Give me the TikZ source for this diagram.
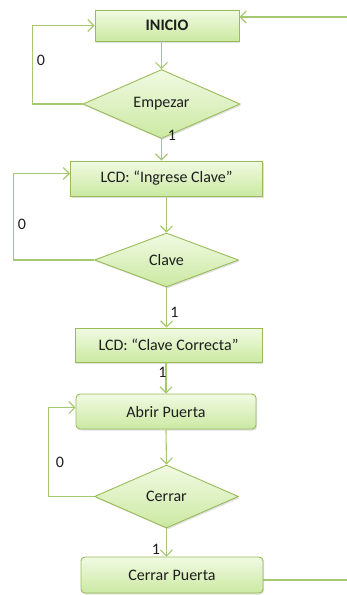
\documentclass[tikz,border=0pt]{standalone}
\usepackage{fontspec}
\setmainfont{Carlito}
\usepackage{tikz}
\usetikzlibrary{arrows.meta, positioning, shapes.geometric, shadows}
\definecolor{boxtop}{HTML}{F1FAE3}
\definecolor{boxbot}{HTML}{CBE9A2}
\definecolor{boxline}{HTML}{9BBB59}
\definecolor{flowline}{HTML}{A6C872}
\definecolor{txt}{HTML}{1E1E1E}

\begin{document}
\begin{tikzpicture}[x=1pt, y=-1pt, thick,
    font=\fontsize{16}{18}\selectfont, text=txt,
    base/.style={draw=boxline, line width=0.9pt, top color=boxtop, bottom color=boxbot,
                 drop shadow={shadow xshift=1.2pt, shadow yshift=-1.5pt, opacity=0.25}},
    paso/.style={base, rectangle, inner sep=0pt},
    accion/.style={base, rectangle, rounded corners=4pt, inner sep=0pt},
    pregunta/.style={base, diamond, inner sep=0pt},
    flow/.style={draw=flowline, line width=1.1pt, -{Straight Barb[length=6pt, width=12pt]}},
    etiq/.style={inner sep=0pt, font=\fontsize{16}{18}\selectfont}]
    \useasboundingbox (0,0) rectangle (347,595);

    % Inicio
    \node[paso, minimum width=144pt, minimum height=31pt] (inicio) at (167,25.5) {\textbf{INICIO}};
    \node[pregunta, minimum width=157pt, minimum height=52pt] (empezar) at (161.5,104) {Empezar};
    \coordinate (entrada) at (347,17);
    \draw[flow] (entrada) -- (inicio.east |- entrada);
    \draw[flow] (empezar.north |- inicio.south) -- (empezar.north);
    \draw[flow] (empezar.west) -- ++(-50,0) |- (inicio.west);
    \node[etiq] (e0a) at (41,60) {0};

    % Clave
    \node[paso, minimum width=192pt, minimum height=35pt] (ingrese) at (166.5,178.5) {LCD: “Ingrese Clave”};
    \node[pregunta, minimum width=144pt, minimum height=54pt] (clave) at (166.5,260) {Clave};
    \draw[flow] (empezar.south) -- (empezar.south |- ingrese.north);
    \node[etiq] (e1a) at (172,135) {1};
    \draw[flow] (ingrese.south) -- (clave.north);
    \draw[flow] (clave.west) -- ++(-81,0) |- ([yshift=5pt]ingrese.west);
    \node[etiq] (e0b) at (22,224) {0};

    % Puerta
    \node[paso, minimum width=187pt, minimum height=34pt] (correcta) at (168.5,345) {LCD: “Clave Correcta”};
    \node[accion, minimum width=180pt, minimum height=35pt] (abrir) at (166,411.5) {Abrir Puerta};
    \node[pregunta, minimum width=144pt, minimum height=63pt] (cerrar) at (166.5,496.5) {Cerrar};
    \node[accion, minimum width=182pt, minimum height=36pt] (cerrarp) at (172,575) {Cerrar Puerta};
    \draw[flow] (clave.south) -- (clave.south |- correcta.north);
    \node[etiq] (e1b) at (174.5,312) {1};
    \draw[flow] (abrir.north |- correcta.south) -- (abrir.north);
    \node[etiq] (e1c) at (162.5,372) {1};
    \draw[flow] (abrir.south) -- (cerrar.north);
    \draw[flow] (cerrar.west) -- ++(-46,0) |- ([yshift=4pt]abrir.west);
    \node[etiq] (e0c) at (60,462) {0};
    \draw[flow] (cerrar.south) -- (cerrar.south |- cerrarp.north);
    \node[etiq] (e1d) at (156,549) {1};
    \coordinate (salida) at (347,580);
    \draw[draw=flowline, line width=1.1pt] (cerrarp.east |- salida) -- (salida);
\end{tikzpicture}
\end{document}
